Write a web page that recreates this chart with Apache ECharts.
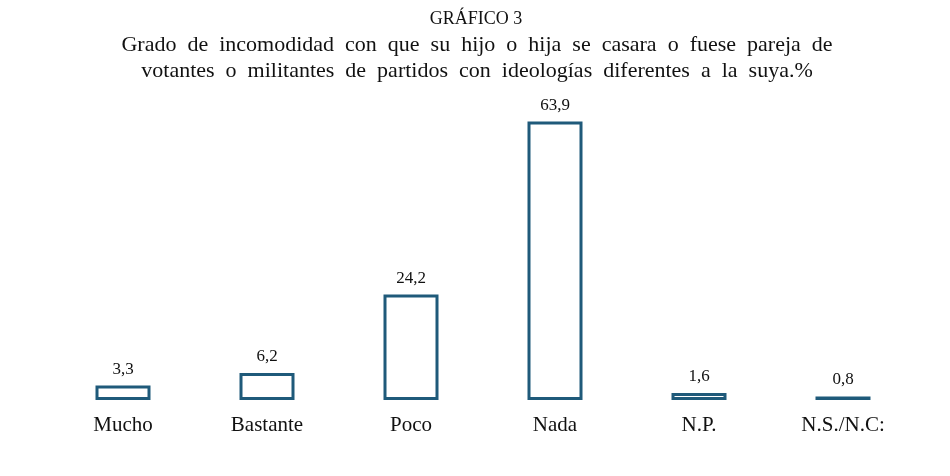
<!DOCTYPE html>
<html>
<head>
<meta charset="utf-8">
<script src="https://cdn.jsdelivr.net/npm/echarts@6/dist/echarts.min.js"></script>
<style>
    html, body { margin: 0; padding: 0; background: #fff; }
    #chart { width: 950px; height: 476px; }
</style>
</head>
<body>
<div id="chart"></div>
<script>
    // datos del gráfico
    var categorias = ['Mucho', 'Bastante', 'Poco', 'Nada', 'N.P.', 'N.S./N.C:'];
    var valores = [3.3, 6.2, 24.2, 63.9, 1.6, 0.8];

    var chart = echarts.init(document.getElementById('chart'));
    var option = {
        animation: false,
        title: [
            {
                text: 'GRÁFICO 3',
                left: 471,
                top: 5,
                textAlign: 'center',
                textStyle: { fontFamily: 'Liberation Serif', fontSize: 18, fontWeight: 'normal', color: '#111' }
            },
            {
                text: 'Grado  de  incomodidad  con  que  su  hijo  o  hija  se  casara  o  fuese  pareja  de\nvotantes  o  militantes  de  partidos  con  ideologías  diferentes  a  la  suya.%',
                left: 472,
                top: 27,
                textAlign: 'center',
                textStyle: { fontFamily: 'Liberation Serif', fontSize: 22, fontWeight: 'normal', color: '#111', lineHeight: 26 }
            }
        ],
        grid: { left: 51, right: 35, top: 95, bottom: 76 },
        xAxis: {
            type: 'category',
            data: categorias,
            axisLine: { show: false },
            axisTick: { show: false },
            axisLabel: {
                margin: 15,
                fontFamily: 'Liberation Serif',
                fontSize: 21,
                color: '#111'
            }
        },
        yAxis: {
            type: 'value',
            min: 0,
            max: 70,
            show: false,
            splitLine: { show: false }
        },
        series: [{
            type: 'bar',
            data: valores,
            barWidth: 55,
            itemStyle: {
                color: '#fff',
                borderColor: '#1f5a7a',
                borderWidth: 3
            },
            label: {
                show: true,
                position: 'top',
                distance: 8,
                fontFamily: 'Liberation Serif',
                fontSize: 17,
                color: '#111',
                formatter: function (p) {
                    return String(p.value).replace('.', ',');
                }
            }
        }]
    };
    chart.setOption(option);
</script>
</body>
</html>
